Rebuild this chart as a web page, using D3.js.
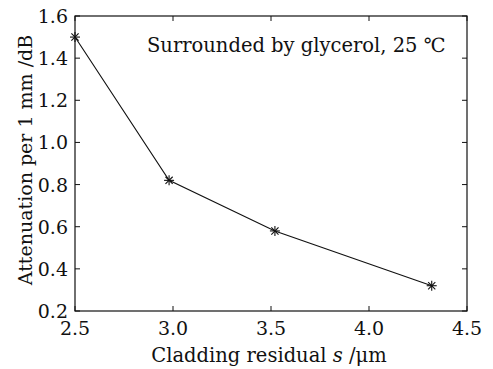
<!DOCTYPE html>
<html>
<head>
<meta charset="utf-8">
<script src="https://cdn.jsdelivr.net/npm/d3@7"></script>
<style>
  body { margin: 0; background: #fff; }
  text { font-family: "DejaVu Serif", "Liberation Serif", serif; fill: #111; }
</style>
</head>
<body>
<svg id="chart" width="493" height="369"></svg>
<script>
const cladding = [2.5, 2.98, 3.52, 4.32];
const attenuation = [1.5, 0.82, 0.58, 0.32];
const xTicks = [2.5, 3.0, 3.5, 4.0, 4.5];
const yTicks = [0.2, 0.4, 0.6, 0.8, 1.0, 1.2, 1.4, 1.6];

const svg = d3.select("#chart");
const m = { left: 75, top: 16, right: 467, bottom: 311 };

const x = d3.scaleLinear().domain([2.5, 4.5]).range([m.left, m.right]);
const y = d3.scaleLinear().domain([0.2, 1.6]).range([m.bottom, m.top]);

const tickLen = 5;
const fmt = d3.format(".1f");

// frame
svg.append("rect")
  .attr("x", m.left).attr("y", m.top)
  .attr("width", m.right - m.left).attr("height", m.bottom - m.top)
  .attr("fill", "none").attr("stroke", "#111").attr("stroke-width", 1.2);

// inward ticks on all sides
const axes = svg.append("g").attr("stroke", "#111").attr("stroke-width", 1);
xTicks.forEach((t) => {
  axes.append("line").attr("x1", x(t)).attr("x2", x(t)).attr("y1", m.bottom).attr("y2", m.bottom - tickLen);
  axes.append("line").attr("x1", x(t)).attr("x2", x(t)).attr("y1", m.top).attr("y2", m.top + tickLen);
});
yTicks.forEach((t) => {
  axes.append("line").attr("y1", y(t)).attr("y2", y(t)).attr("x1", m.left).attr("x2", m.left + tickLen);
  axes.append("line").attr("y1", y(t)).attr("y2", y(t)).attr("x1", m.right).attr("x2", m.right - tickLen);
});

// tick labels
svg.append("g").selectAll("text")
  .data(xTicks).join("text")
  .attr("x", (d) => x(d)).attr("y", 335)
  .attr("text-anchor", "middle")
  .style("font-size", "19px")
  .text(fmt);

svg.append("g").selectAll("text")
  .data(yTicks).join("text")
  .attr("x", m.left - 7).attr("y", (d) => y(d) + 7)
  .attr("text-anchor", "end")
  .style("font-size", "19px")
  .text(fmt);

// axis titles
const xt = svg.append("text")
  .attr("x", 269).attr("y", 362)
  .attr("text-anchor", "middle")
  .style("font-size", "19.5px");
xt.append("tspan").text("Cladding residual ");
xt.append("tspan").style("font-style", "italic").text("s");
xt.append("tspan").text(" /μm");

svg.append("text")
  .attr("transform", `translate(32, 160) rotate(-90)`)
  .attr("text-anchor", "middle")
  .style("font-size", "19px")
  .text("Attenuation per 1 mm /dB");

// annotation
svg.append("text")
  .attr("x", 147).attr("y", 52)
  .style("font-size", "19.5px")
  .text("Surrounded by glycerol, 25 ℃");

// line
const pts = cladding.map((c, i) => [c, attenuation[i]]);
svg.append("path")
  .datum(pts)
  .attr("fill", "none")
  .attr("stroke", "#111")
  .attr("stroke-width", 1.1)
  .attr("d", d3.line().x((d) => x(d[0])).y((d) => y(d[1])));

// asterisk markers
const r = 5;
const mk = svg.append("g").attr("stroke", "#111").attr("stroke-width", 1.1)
  .selectAll("g").data(pts).join("g")
  .attr("transform", (d) => `translate(${x(d[0])},${y(d[1])})`);
mk.append("line").attr("x1", -r).attr("x2", r).attr("y1", 0).attr("y2", 0);
mk.append("line").attr("x1", 0).attr("x2", 0).attr("y1", -r).attr("y2", r);
mk.append("line").attr("x1", -r * 0.72).attr("x2", r * 0.72).attr("y1", -r * 0.72).attr("y2", r * 0.72);
mk.append("line").attr("x1", -r * 0.72).attr("x2", r * 0.72).attr("y1", r * 0.72).attr("y2", -r * 0.72);
</script>
</body>
</html>
